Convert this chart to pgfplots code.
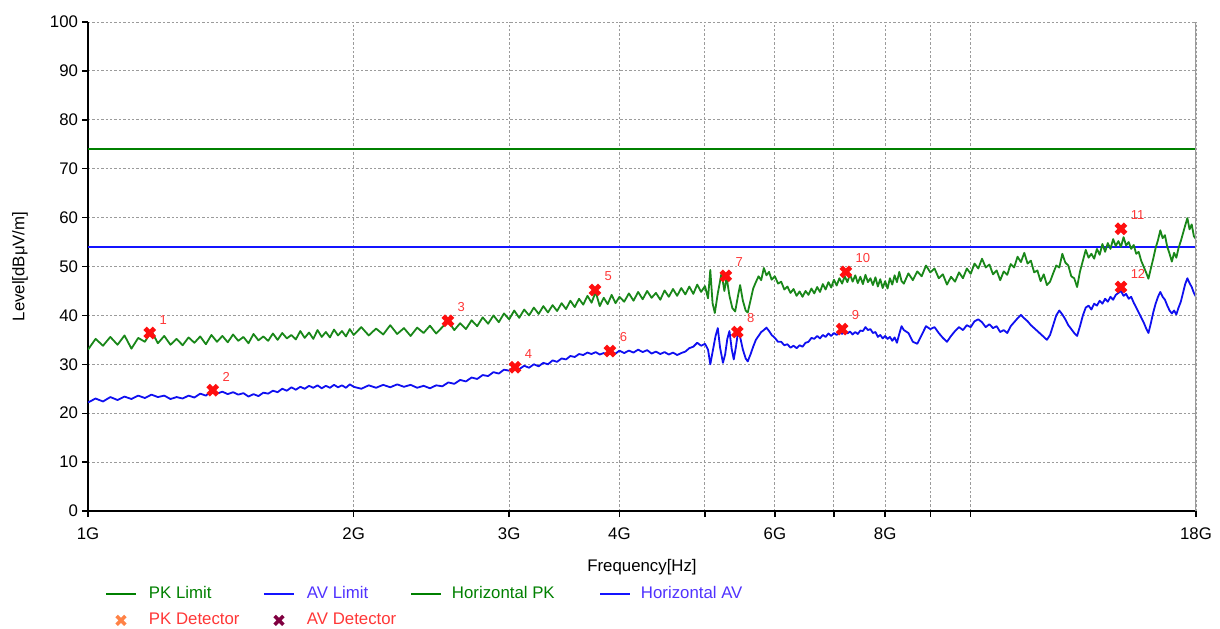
\documentclass[border=0pt]{standalone}
\usepackage{fontspec}
\setmainfont{Liberation Sans}
\usepackage{pgfplots}
\pgfplotsset{compat=1.18}

\definecolor{pkgreen}{RGB}{0,128,0}
\definecolor{trgreen}{RGB}{25,135,25}
\definecolor{avblue}{RGB}{20,20,255}
\definecolor{trblue}{RGB}{15,15,240}
\definecolor{legblue}{RGB}{80,50,255}
\definecolor{mkred}{RGB}{255,15,15}
\definecolor{labred}{RGB}{255,55,55}
\definecolor{pkorange}{RGB}{255,130,70}
\definecolor{avmaroon}{RGB}{128,0,64}
\definecolor{gridgray}{RGB}{155,155,155}

\newcommand{\lf}{\fontsize{8.4}{10}\selectfont}

\begin{document}
\begin{tikzpicture}
\useasboundingbox (-44pt,-58.5pt) rectangle (566pt,255.5pt);
\begin{axis}[
    scale only axis,
    width=554pt, height=244.5pt,
    xmode=log,
    xmin=1, xmax=18, ymin=0, ymax=100,
    xtick={1,2,3,4,5,6,7,8,9,10,18},
    xticklabels={1G,2G,3G,4G,,6G,,8G,,,18G},
    ytick={0,10,...,100},
    minor tick num=0,
    axis lines=left,
    axis line style={-, black, line width=0.7pt},
    tick align=outside,
    major tick length=3pt,
    tick style={black, line width=0.7pt},
    grid=major,
    major grid style={gridgray, line width=0.5pt, dash pattern=on 1.2pt off 1pt},
    tick label style={font=\lf},
    /pgf/number format/assume math mode=true,
    xticklabel style={yshift=-2pt},
    yticklabel style={xshift=1.5pt},
    xlabel={Frequency[Hz]},
    ylabel={Level[dBμV/m]},
    label style={font=\lf},
    xlabel style={at={(axis description cs:0.5,0)}, anchor=center, yshift=-28pt},
    ylabel style={at={(axis description cs:0,0.5)}, anchor=center, yshift=34pt},
    legend columns=4,
    legend style={draw=none, fill=none, inner sep=0pt, outer sep=0pt,
        at={(axis description cs:0,0)}, anchor=north west,
        xshift=8.5pt, yshift=-37.5pt, font=\lf,
        column sep=0pt, row sep=5pt,
        nodes={inner sep=0pt, text height=6.3pt, text depth=1.8pt}},
    legend cell align=left,
    clip=true,
]
% limits
\addplot[pkgreen, line width=1pt, forget plot] coordinates {(1,74) (18,74)};
\addplot[avblue, line width=1pt, forget plot] coordinates {(1,54) (18,54)};

% Horizontal PK trace
\addplot[trgreen, line width=0.9pt, line join=round, forget plot] coordinates {
(1.00,33.0) (1.02,35.2) (1.04,33.8) (1.06,35.6) (1.08,34.0) (1.10,35.9) (1.12,33.2) (1.14,35.4) (1.16,34.6) (1.18,36.8)
(1.20,34.3) (1.22,35.8) (1.24,34.0) (1.26,35.2) (1.28,33.9) (1.30,35.5) (1.32,34.4) (1.34,35.7) (1.36,34.1) (1.38,36.0)
(1.40,34.6) (1.42,35.8) (1.44,34.5) (1.46,36.1) (1.48,34.8) (1.50,35.6) (1.52,34.3) (1.54,36.2) (1.56,34.9) (1.58,35.7)
(1.60,34.8) (1.62,36.3) (1.64,35.0) (1.66,36.4) (1.68,35.3) (1.70,36.0) (1.72,35.1) (1.74,36.8) (1.76,35.4) (1.78,36.5)
(1.80,35.2) (1.82,37.0) (1.84,35.6) (1.86,36.6) (1.88,35.5) (1.90,37.1) (1.92,35.9) (1.94,36.8) (1.96,35.7) (1.98,37.2)
(2.00,36.0) (2.04,37.6) (2.08,35.9) (2.12,37.3) (2.16,36.1) (2.20,38.0) (2.24,36.2) (2.28,37.4) (2.32,35.8) (2.36,37.5)
(2.40,36.4) (2.44,37.9) (2.48,36.3) (2.52,37.6) (2.56,38.8) (2.60,37.0) (2.64,38.4) (2.68,37.2) (2.72,39.0) (2.76,37.8)
(2.80,39.6) (2.84,38.3) (2.88,40.0) (2.92,38.6) (2.96,40.4) (3.00,39.2) (3.04,41.0) (3.08,39.5) (3.12,41.2) (3.16,40.0)
(3.20,41.6) (3.24,40.3) (3.28,41.9) (3.32,40.6) (3.36,42.1) (3.40,40.9) (3.44,42.5) (3.48,41.3) (3.52,43.0) (3.56,41.7)
(3.60,43.4) (3.64,42.2) (3.68,44.0) (3.72,42.6) (3.76,44.8) (3.80,41.9) (3.84,43.6) (3.88,42.3) (3.92,44.2) (3.96,42.5)
(4.00,43.8) (4.05,42.8) (4.10,44.5) (4.15,43.0) (4.20,44.8) (4.25,43.3) (4.30,45.0) (4.35,43.6) (4.40,44.6) (4.45,43.2)
(4.50,45.1) (4.55,43.8) (4.60,45.4) (4.65,44.0) (4.70,45.6) (4.75,44.3) (4.80,45.9) (4.85,44.4) (4.90,46.3) (4.95,44.8)
(5.00,46.0) (5.04,43.5) (5.07,49.3) (5.10,42.5) (5.13,40.5) (5.17,44.5) (5.22,48.6) (5.26,45.0) (5.29,47.8) (5.33,44.0)
(5.37,41.5) (5.41,40.8) (5.45,44.0) (5.48,46.2) (5.52,43.0) (5.56,41.0) (5.59,40.6) (5.63,43.0) (5.67,45.5) (5.71,46.8)
(5.75,48.0) (5.79,47.2) (5.83,49.7) (5.87,48.2) (5.91,48.9) (5.95,47.3) (6.00,48.0) (6.05,46.5) (6.10,46.9) (6.15,45.3)
(6.20,45.9) (6.25,44.6) (6.30,45.4) (6.35,44.0) (6.40,44.9) (6.45,43.8) (6.50,45.0) (6.55,44.2) (6.60,45.5) (6.65,44.5)
(6.70,45.8) (6.75,44.8) (6.80,46.4) (6.85,45.3) (6.90,46.8) (6.95,45.7) (7.00,47.3) (7.05,46.1) (7.10,47.6) (7.15,46.5)
(7.20,48.0) (7.25,46.8) (7.30,48.4) (7.35,46.9) (7.40,48.2) (7.45,46.6) (7.50,47.9) (7.55,46.4) (7.60,48.3) (7.65,46.8)
(7.70,47.6) (7.75,46.2) (7.80,47.8) (7.85,45.9) (7.90,47.4) (7.95,45.6) (8.00,47.0) (8.05,45.5) (8.10,47.6) (8.15,46.3)
(8.20,48.2) (8.25,46.8) (8.30,48.9) (8.35,47.0) (8.4,46.5) (8.5,48.6) (8.6,47.2) (8.7,49.0) (8.8,48.0) (8.9,50.2)
(9.0,48.8) (9.1,49.6) (9.2,47.6) (9.3,48.4) (9.4,46.3) (9.5,47.9) (9.6,46.9) (9.7,48.8) (9.8,47.6) (9.9,49.6)
(10.0,48.5) (10.1,50.6) (10.2,49.6) (10.3,51.6) (10.4,49.8) (10.5,50.4) (10.6,48.4) (10.7,49.2) (10.8,47.2) (10.9,49.0)
(11.0,48.3) (11.1,50.5) (11.2,49.8) (11.3,52.0) (11.4,50.9) (11.5,52.8) (11.6,50.6) (11.7,51.2) (11.8,48.8) (11.9,49.2)
(12.0,47.0) (12.1,48.4) (12.2,46.2) (12.3,46.9) (12.4,48.6) (12.5,50.2) (12.6,49.8) (12.7,52.6) (12.8,50.8) (12.9,50.2)
(13.0,48.0) (13.1,47.6) (13.2,45.8) (13.3,49.0) (13.4,51.2) (13.5,53.4) (13.6,51.8) (13.7,52.6) (13.8,51.6) (13.9,53.6)
(14.0,52.4) (14.1,54.6) (14.2,53.0) (14.3,54.8) (14.4,53.6) (14.5,55.6) (14.6,54.2) (14.7,55.2) (14.8,54.0) (14.9,56.0)
(15.0,54.3) (15.1,55.0) (15.2,53.6) (15.3,54.4) (15.4,52.6) (15.5,53.0) (15.6,51.2) (15.7,50.0) (15.8,48.8) (15.9,47.5)
(16.0,49.6) (16.1,51.6) (16.2,53.8) (16.3,55.4) (16.4,57.4) (16.5,55.8) (16.6,56.4) (16.7,54.0) (16.8,52.6) (16.9,51.0)
(17.0,52.8) (17.1,51.8) (17.2,53.8) (17.3,55.2) (17.4,56.8) (17.5,58.4) (17.6,59.9) (17.7,57.6) (17.8,58.6) (17.9,56.2)
(18.0,55.6)
};

% Horizontal AV trace
\addplot[trblue, line width=0.9pt, line join=round, forget plot] coordinates {
(1.00,22.2) (1.02,23.0) (1.04,22.4) (1.06,23.3) (1.08,22.7) (1.10,23.4) (1.12,22.9) (1.14,23.6) (1.16,23.1) (1.18,23.8)
(1.20,23.3) (1.22,23.6) (1.24,22.9) (1.26,23.3) (1.28,23.0) (1.30,23.6) (1.32,23.2) (1.34,24.0) (1.36,23.6) (1.38,24.5)
(1.40,24.0) (1.42,24.4) (1.44,23.9) (1.46,24.3) (1.48,23.8) (1.50,24.1) (1.52,23.4) (1.54,23.9) (1.56,23.5) (1.58,24.2)
(1.60,24.0) (1.62,24.6) (1.64,24.3) (1.66,25.0) (1.68,24.6) (1.70,25.3) (1.72,24.8) (1.74,25.4) (1.76,25.0) (1.78,25.6)
(1.80,25.2) (1.82,25.7) (1.84,25.1) (1.86,25.6) (1.88,25.2) (1.90,25.8) (1.92,25.3) (1.94,25.7) (1.96,25.2) (1.98,25.9)
(2.00,25.4) (2.04,25.0) (2.08,25.7) (2.12,25.2) (2.16,25.8) (2.20,25.3) (2.24,25.9) (2.28,25.4) (2.32,25.8) (2.36,25.2)
(2.40,25.6) (2.44,25.1) (2.48,25.7) (2.52,25.5) (2.56,26.3) (2.60,26.0) (2.64,26.8) (2.68,26.5) (2.72,27.3) (2.76,27.0)
(2.80,27.8) (2.84,27.6) (2.88,28.4) (2.92,28.1) (2.96,28.9) (3.00,28.7) (3.04,29.5) (3.08,29.0) (3.12,29.7) (3.16,29.3)
(3.20,30.0) (3.24,29.6) (3.28,30.3) (3.32,30.0) (3.36,30.8) (3.40,30.5) (3.44,31.2) (3.48,31.0) (3.52,31.7) (3.56,31.5)
(3.60,32.1) (3.64,31.9) (3.68,32.4) (3.72,32.1) (3.76,32.5) (3.80,32.0) (3.84,32.3) (3.88,31.9) (3.92,32.6) (3.96,32.2)
(4.00,32.8) (4.05,32.3) (4.10,32.8) (4.15,32.4) (4.20,33.0) (4.25,32.5) (4.30,32.9) (4.35,32.2) (4.40,32.6) (4.45,32.1)
(4.50,32.5) (4.55,32.0) (4.60,32.4) (4.65,31.9) (4.70,32.3) (4.75,32.6) (4.80,33.3) (4.85,33.6) (4.90,34.4) (4.95,33.8)
(5.00,34.2) (5.04,33.0) (5.07,30.0) (5.10,32.5) (5.14,35.8) (5.17,37.4) (5.20,33.5) (5.24,30.3) (5.27,32.0) (5.30,35.2)
(5.33,36.8) (5.36,33.2) (5.39,31.0) (5.42,33.5) (5.45,36.6) (5.48,35.6) (5.52,33.0) (5.56,31.2) (5.59,30.6) (5.63,32.0)
(5.67,33.6) (5.71,35.0) (5.75,35.8) (5.79,36.6) (5.83,37.0) (5.87,37.5) (5.91,36.8) (5.95,36.0) (6.00,35.4) (6.05,34.6)
(6.10,34.6) (6.15,33.9) (6.20,34.1) (6.25,33.4) (6.30,33.8) (6.35,33.3) (6.40,33.9) (6.45,33.6) (6.50,34.4) (6.55,34.6)
(6.60,35.4) (6.65,35.2) (6.70,35.8) (6.75,35.3) (6.80,36.0) (6.85,35.6) (6.90,36.3) (6.95,35.8) (7.00,36.4) (7.05,36.0)
(7.10,36.6) (7.15,36.2) (7.20,36.8) (7.25,36.3) (7.30,36.7) (7.35,36.1) (7.40,36.6) (7.45,36.2) (7.50,36.9) (7.55,36.8)
(7.60,37.6) (7.65,37.0) (7.70,37.2) (7.75,36.4) (7.80,36.6) (7.85,35.6) (7.90,36.0) (7.95,35.3) (8.00,35.8) (8.05,35.2)
(8.10,35.6) (8.15,34.8) (8.20,35.5) (8.25,34.4) (8.30,36.2) (8.35,37.8) (8.4,37.0) (8.5,36.4) (8.6,34.6) (8.7,34.2)
(8.8,36.0) (8.9,37.8) (9.0,37.2) (9.1,37.6) (9.2,36.4) (9.3,35.4) (9.4,34.6) (9.5,35.8) (9.6,36.8) (9.7,37.6)
(9.8,37.0) (9.9,38.0) (10.0,37.6) (10.1,38.8) (10.2,39.2) (10.3,38.6) (10.4,37.6) (10.5,38.2) (10.6,37.4) (10.7,37.8)
(10.8,36.6) (10.9,37.0) (11.0,36.4) (11.1,37.8) (11.2,38.6) (11.3,39.4) (11.4,40.1) (11.5,39.4) (11.6,38.8) (11.7,38.0)
(11.8,37.4) (11.9,36.8) (12.0,36.2) (12.1,35.6) (12.2,35.0) (12.3,36.0) (12.4,38.0) (12.5,40.0) (12.6,41.0) (12.7,40.2)
(12.8,39.2) (12.9,38.0) (13.0,37.2) (13.1,36.4) (13.2,35.8) (13.3,37.8) (13.4,40.0) (13.5,41.6) (13.6,42.0) (13.7,41.2)
(13.8,42.4) (13.9,42.0) (14.0,43.0) (14.1,42.4) (14.2,43.4) (14.3,42.8) (14.4,43.8) (14.5,43.2) (14.6,44.2) (14.7,44.6)
(14.8,45.0) (14.9,44.0) (15.0,44.4) (15.1,43.4) (15.2,43.8) (15.3,42.6) (15.4,41.6) (15.5,40.6) (15.6,39.6) (15.7,38.6)
(15.8,37.4) (15.9,36.4) (16.0,38.4) (16.1,40.6) (16.2,42.4) (16.3,43.8) (16.4,44.8) (16.5,43.8) (16.6,43.2) (16.7,42.0)
(16.8,41.0) (16.9,40.4) (17.0,41.0) (17.1,40.2) (17.2,41.6) (17.3,42.8) (17.4,44.6) (17.5,46.4) (17.6,47.6) (17.7,46.6)
(17.8,45.8) (17.9,44.6) (18.0,43.8)
};

% detector markers with their numbers
\addplot[only marks, mark=x, mark size=3.3pt, line width=2.4pt, mkred, forget plot,
    point meta=explicit symbolic, nodes near coords,
    nodes near coords style={anchor=south west, labred, font=\fontsize{6.5}{7}\selectfont,
        inner sep=0pt, xshift=3.7pt, yshift=3.3pt}]
coordinates {
(1.175,36.4)[1] (1.385,24.7)[2] (2.557,38.9)[3] (3.046,29.4)[4]
(3.753,45.2)[5] (3.903,32.7)[6] (5.28,48.1)[7] (5.44,36.6)[8]
(7.15,37.2)[9] (7.22,48.9)[10] (14.80,57.7)[11] (14.80,45.8)[12]
};

\draw[gridgray, line width=0.7pt] (rel axis cs:1,0) -- (rel axis cs:1,1);

% legend
\addlegendimage{legend image code/.code={\draw[pkgreen, line width=1pt] (0pt,0pt) -- (15pt,0pt);}}
\addlegendentry{\hspace*{6pt}\makebox[57pt][l]{\textcolor{pkgreen}{PK Limit}}}
\addlegendimage{legend image code/.code={\draw[avblue, line width=1pt] (0pt,0pt) -- (15pt,0pt);}}
\addlegendentry{\hspace*{6pt}\makebox[51.5pt][l]{\textcolor{legblue}{AV Limit}}}
\addlegendimage{legend image code/.code={\draw[pkgreen, line width=1pt] (0pt,0pt) -- (15pt,0pt);}}
\addlegendentry{\hspace*{5pt}\makebox[73.5pt][l]{\textcolor{pkgreen}{Horizontal PK}}}
\addlegendimage{legend image code/.code={\draw[avblue, line width=1pt] (0pt,0pt) -- (15pt,0pt);}}
\addlegendentry{\hspace*{5pt}\textcolor{legblue}{Horizontal AV}}
\addlegendimage{legend image code/.code={\path[draw=none] (0pt,0pt) -- (15pt,0pt); \draw[pkorange, line width=1.8pt] (5.3pt,-2.2pt) -- (9.7pt,2.2pt) (5.3pt,2.2pt) -- (9.7pt,-2.2pt);}}
\addlegendentry{\hspace*{6pt}\makebox[57pt][l]{\textcolor{labred}{PK Detector}}}
\addlegendimage{legend image code/.code={\path[draw=none] (0pt,0pt) -- (15pt,0pt); \draw[avmaroon, line width=1.8pt] (5.3pt,-2.2pt) -- (9.7pt,2.2pt) (5.3pt,2.2pt) -- (9.7pt,-2.2pt);}}
\addlegendentry{\hspace*{6pt}\makebox[51.5pt][l]{\textcolor{labred}{AV Detector}}}
\end{axis}
\end{tikzpicture}
\end{document}
